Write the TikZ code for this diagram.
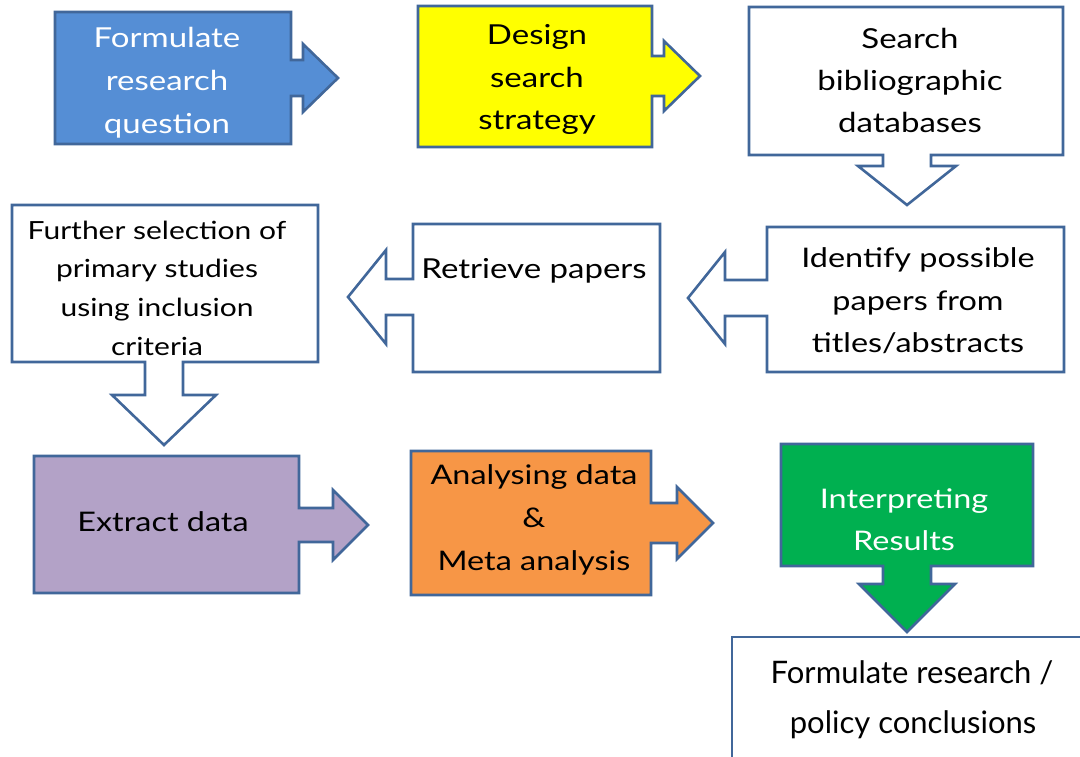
\documentclass[tikz,border=0pt]{standalone}
\usepackage{fontspec}
\setmainfont{Lato}[FakeStretch=1.2]
\newfontfamily\latoplain{Lato}
\definecolor{edge}{HTML}{41679A}
\definecolor{fblue}{HTML}{558ED5}
\definecolor{fyellow}{HTML}{FFFF00}
\definecolor{fpurple}{HTML}{B3A2C7}
\definecolor{forange}{HTML}{F79646}
\definecolor{fgreen}{HTML}{00B050}
\tikzset{
  shapebox/.style={draw=edge, line width=2.6pt, line join=miter, miter limit=10},
  lbl/.style={align=center, inner sep=0pt, text=black},
}
\newcommand{\fs}[2]{\fontsize{#1}{#2}\selectfont}
\begin{document}
\begin{tikzpicture}[x=1pt,y=-1pt]
\useasboundingbox (0,0) rectangle (1080,757);
\fill[white] (0,0) rectangle (1080,757);
\begin{scope}
\clip (0,0) rectangle (1080,757);
% Box 1
\path[shapebox, fill=fblue] (55,12) -- (291,12) -- (291,60) -- (303,60) -- (303,44) -- (338,78) -- (303,112) -- (303,96) -- (291,96) -- (291,144) -- (55,144) -- cycle;
% Box 2
\path[shapebox, fill=fyellow] (418,6) -- (652,6) -- (652,56) -- (664,56) -- (664,41) -- (700,76) -- (664,111) -- (664,96) -- (652,96) -- (652,147) -- (418,147) -- cycle;
% Box 3
\path[shapebox, fill=white] (749,7) -- (1063,7) -- (1063,155) -- (931,155) -- (931,166) -- (956,166) -- (907,205) -- (858,166) -- (883,166) -- (883,155) -- (749,155) -- cycle;
% Box 4
\path[shapebox, fill=white] (12,205) -- (318,205) -- (318,362) -- (183,362) -- (183,395) -- (216,395) -- (164,445) -- (112,395) -- (145,395) -- (145,362) -- (12,362) -- cycle;
% Box 5
\path[shapebox, fill=white] (413,224) -- (660,224) -- (660,372) -- (413,372) -- (413,315) -- (386,315) -- (386,344) -- (348,297) -- (386,250) -- (386,279) -- (413,279) -- cycle;
% Box 6
\path[shapebox, fill=white] (767,227) -- (1064,227) -- (1064,372) -- (767,372) -- (767,316) -- (725,316) -- (725,344) -- (688,298) -- (725,252) -- (725,280) -- (767,280) -- cycle;
% Box 7
\path[shapebox, fill=fpurple] (34,456) -- (299,456) -- (299,508) -- (333,508) -- (333,490) -- (368,525) -- (333,560) -- (333,542) -- (299,542) -- (299,593) -- (34,593) -- cycle;
% Box 8
\path[shapebox, fill=forange] (411,451) -- (651,451) -- (651,503) -- (677,503) -- (677,487) -- (713,523) -- (677,559) -- (677,543) -- (651,543) -- (651,595) -- (411,595) -- cycle;
% Box 10
\path[shapebox, fill=white] (732,637) rectangle (1100,758);
% Box 9
\path[shapebox, fill=fgreen] (781,444) -- (1033,444) -- (1033,566) -- (931,566) -- (931,584) -- (955,584) -- (907,632) -- (859,584) -- (883,584) -- (883,566) -- (781,566) -- cycle;
\end{scope}
% Labels
\node[lbl, text=white, font=\fs{27.5}{43}] (t1) at (167,83) {Formulate\\research\\question};
\node[lbl, font=\fs{27.5}{42.5}] (t2) at (537,79.5) {Design\\search\\strategy};
\node[lbl, font=\fs{27.5}{42}] (t3) at (910,80) {Search\\bibliographic\\databases};
\node[lbl, font=\fs{25}{38.7}] (t4) at (157,288) {Further selection of\\primary studies\\using inclusion\\criteria};
\node[lbl, font=\fs{27.5}{30}] (t5) at (534,271) {Retrieve papers};
\node[lbl, font=\fs{27}{42.5}] (t6) at (918,301) {Identify possible\\papers from\\titles/abstracts};
\node[lbl, font=\fs{27}{30}] (t7) at (163,522) {Extract data};
\node[lbl, font=\fs{27}{43}] (t8) at (534,520) {Analysing data\\\&\\Meta analysis};
\node[lbl, text=white, font=\fs{27}{42}] (t9) at (904,520) {Interpreting\\Results};
\node[lbl, font=\latoplain\fs{31}{34}] (t10a) at (912,673) {Formulate research /};
\node[lbl, font=\latoplain\fs{31}{34}] (t10b) at (913,725) {policy conclusions};
\end{tikzpicture}
\end{document}
